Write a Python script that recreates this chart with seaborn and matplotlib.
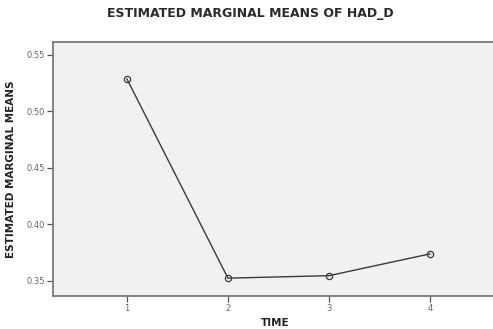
import matplotlib
matplotlib.use("Agg")
import matplotlib.pyplot as plt
import seaborn as sns
import pandas as pd

time = [1, 2, 3, 4]
means = [0.529, 0.3525, 0.3547, 0.374]
yticks = [0.35, 0.40, 0.45, 0.50, 0.55]
ytick_labels = ["0.35", "0.40", "0.45", "0.50", "0.55"]

sns.set_theme(style="white")
plt.rcParams['font.family'] = ['DejaVu Sans']

df = pd.DataFrame({"Time": time, "Mean": means})

fig = plt.figure(figsize=(4.93, 3.29), dpi=100)
ax = fig.add_axes([53/493, 1 - 296/329, 1 - 53/493 + 0.01, (296 - 42)/329])
ax.set_facecolor("#f1f1f1")

sns.lineplot(data=df, x="Time", y="Mean", ax=ax, color="#3a3a3a", linewidth=1.0,
             marker="o", markersize=4.5, markerfacecolor="none",
             markeredgecolor="#3a3a3a", markeredgewidth=0.9)

ax.set_xlim(0.27, 4.67)
ax.set_ylim(0.3367, 0.5615)
ax.set_xticks(time)
ax.set_xticklabels([str(t) for t in time])
ax.set_yticks(yticks)
ax.set_yticklabels(ytick_labels)

for s in ["left", "bottom", "top"]:
    ax.spines[s].set_visible(True)
    ax.spines[s].set_color("#7a7a7a")
    ax.spines[s].set_linewidth(1.3)
ax.spines["right"].set_visible(False)

ax.tick_params(axis="both", which="both", direction="out", length=4.5, width=0.9,
               color="#555555", labelsize=6, labelcolor="#666666", pad=1.5)
ax.tick_params(left=True, bottom=True)

ax.set_xlabel("TIME", fontsize=7.5, fontweight="bold", color="#222222", labelpad=3)
ax.set_ylabel("ESTIMATED MARGINAL MEANS", fontsize=7.5, fontweight="bold",
              color="#222222", labelpad=7)

fig.text(0.508, 0.958, "ESTIMATED MARGINAL MEANS OF HAD_D", ha="center", va="center",
         fontsize=9, fontweight="bold", color="#2a2a2a")

fig.savefig("out.png", dpi=100)
